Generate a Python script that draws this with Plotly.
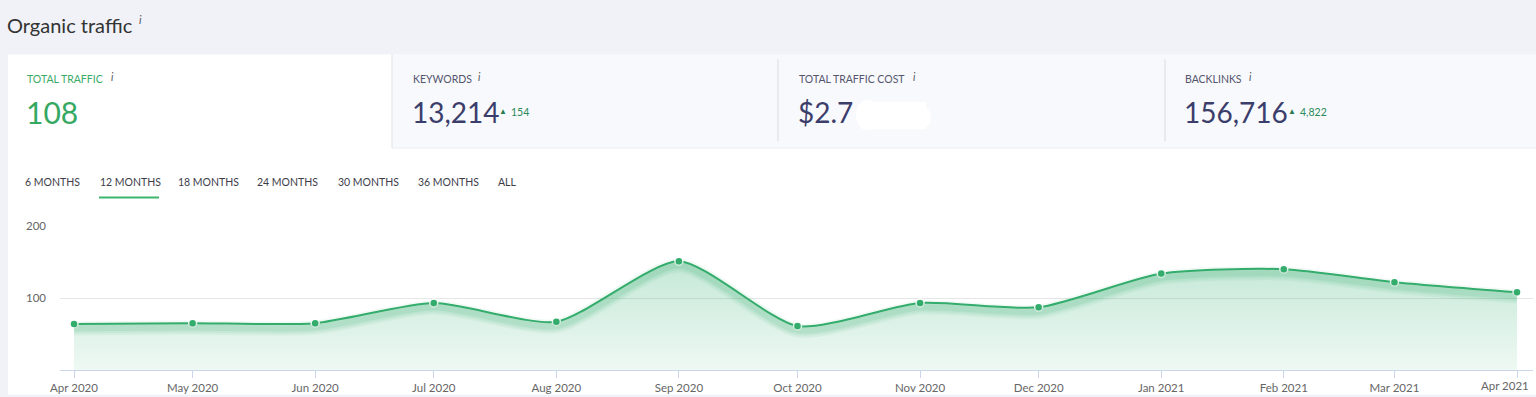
import plotly.graph_objects as go

# ---------------- data ----------------
months = ["2020-04-01", "2020-05-01", "2020-06-01", "2020-07-01", "2020-08-01", "2020-09-01",
          "2020-10-01", "2020-11-01", "2020-12-01", "2021-01-01", "2021-02-01", "2021-03-01",
          "2021-04-01"]
month_labels = ["Apr 2020", "May 2020", "Jun 2020", "Jul 2020", "Aug 2020", "Sep 2020", "Oct 2020",
                "Nov 2020", "Dec 2020", "Jan 2021", "Feb 2021", "Mar 2021", "Apr 2021"]
traffic = [64, 65, 65, 93, 67, 151, 61, 93, 87, 134, 140, 122, 108]

y_ticks = [100, 200]
tab_labels = ["6 MONTHS", "12 MONTHS", "18 MONTHS", "24 MONTHS", "30 MONTHS", "36 MONTHS", "ALL"]
card_labels = ["TOTAL TRAFFIC", "KEYWORDS", "TOTAL TRAFFIC COST", "BACKLINKS"]
card_values = ["108", "13,214", "$2.7", "156,716"]
card_deltas = ["", "154", "", "4,822"]

# ---------------- geometry helpers ----------------
W, H = 1536, 397
L, R, T, B = 60, 3, 226, 25
PW, PH = W - L - R, H - T - B


def px(x):
    return (x - L) / PW


def py(y):
    return (H - B - y) / PH


FONT = "Lato"
GREEN = "#33ad6c"
SMOOTH = 0.65

fig = go.Figure()

# gradient fill area
fig.add_trace(go.Scatter(
    x=months, y=traffic, mode="lines", line=dict(width=0, shape="spline", smoothing=SMOOTH),
    fill="tozeroy",
    fillgradient=dict(type="vertical", start=0, stop=150,
                      colorscale=[[0, "rgba(60,180,120,0.08)"], [1, "rgba(60,180,120,0.30)"]]),
    hoverinfo="skip", showlegend=False))

# soft shadow under line (drawn on slightly shifted overlay axis)
for w, a in [(14, 0.07), (10, 0.09), (6, 0.12)]:
    fig.add_trace(go.Scatter(
        x=months, y=traffic, mode="lines", yaxis="y2",
        line=dict(width=w, color=f"rgba(60,175,115,{a})", shape="spline", smoothing=SMOOTH),
        hoverinfo="skip", showlegend=False))

# main line
fig.add_trace(go.Scatter(
    x=months, y=traffic, mode="lines+markers",
    line=dict(width=2, color=GREEN, shape="spline", smoothing=SMOOTH),
    marker=dict(size=8, color=GREEN, line=dict(width=1.5, color="white")),
    showlegend=False))

shapes = []
# white card + panel
shapes.append(dict(type="rect", xref="paper", yref="paper", x0=px(8), x1=px(392), y0=py(147), y1=py(52),
                   fillcolor="white", line=dict(width=0), layer="below"))
shapes.append(dict(type="rect", xref="paper", yref="paper", x0=px(392), x1=px(1536), y0=py(147), y1=py(52),
                   fillcolor="#f8f9fc", line=dict(width=0), layer="below"))
shapes.append(dict(type="rect", xref="paper", yref="paper", x0=px(8), x1=px(1536), y0=py(397), y1=py(147),
                   fillcolor="white", line=dict(width=0), layer="below"))
# separators
shapes.append(dict(type="line", xref="paper", yref="paper", x0=px(392), x1=px(392), y0=py(147), y1=py(52),
                   line=dict(width=1, color="#dfe2ea")))
for sx in [778, 1165]:
    shapes.append(dict(type="line", xref="paper", yref="paper", x0=px(sx), x1=px(sx), y0=py(140), y1=py(57),
                       line=dict(width=1, color="#d9dbe5")))
shapes.append(dict(type="line", xref="paper", yref="paper", x0=px(392), x1=px(1536), y0=py(147), y1=py(147),
                   line=dict(width=1, color="#eceef4")))
# redaction blob
shapes.append(dict(type="rect", xref="paper", yref="paper", x0=px(862), x1=px(926), y0=py(128), y1=py(100),
                   fillcolor="white", line=dict(width=0)))
shapes.append(dict(type="circle", xref="paper", yref="paper", x0=px(856), x1=px(880), y0=py(129), y1=py(98),
                   fillcolor="white", line=dict(width=0)))
shapes.append(dict(type="circle", xref="paper", yref="paper", x0=px(910), x1=px(931), y0=py(128), y1=py(104),
                   fillcolor="white", line=dict(width=0)))
# active tab underline
shapes.append(dict(type="line", xref="paper", yref="paper", x0=px(99), x1=px(159), y0=py(197), y1=py(197),
                   line=dict(width=2, color="#3cb56c")))

ann = []


def text(x, y, s, size, color, anchor="left", italic=False):
    ann.append(dict(xref="paper", yref="paper", x=px(x), y=py(y), text=(f"<i>{s}</i>" if italic else s),
                    showarrow=False, xanchor=anchor, yanchor="middle",
                    font=dict(family=FONT, size=size, color=color)))


text(5, 22, "Organic traffic", 20, "#333333")
text(137, 17, "i", 11, "#555555", italic=True)

card_x = [26, 412, 798, 1184]
label_colors = ["#3aaa66", "#55556e", "#55556e", "#55556e"]
value_colors = ["#35a862", "#3b3d6b", "#3b3d6b", "#3b3d6b"]
value_sizes = [30, 28, 28, 28]
label_i_x = [109, 476, 911, 1247]
tri_x = [None, 503, None, 1292]
for i in range(4):
    text(card_x[i] - 1, 77, card_labels[i], 10.5, label_colors[i])
    text(label_i_x[i], 75, "i", 10.5, "#555555", italic=True)
    text(card_x[i] - 2, 110, card_values[i], value_sizes[i], value_colors[i])
    if card_deltas[i]:
        text(tri_x[i], 109, "▲", 8, "#2a7d52", anchor="center")
        text(tri_x[i] + 6, 110, card_deltas[i], 10.5, "#2a8a5a")

tab_x = [23, 98, 176, 255, 336, 416, 496]
for tx, lab in zip(tab_x, tab_labels):
    text(tx, 181, lab, 10.5, "#3d3d4a")

# last x tick label, nudged inside the figure like the original
ann.append(dict(xref="x", yref="paper", x=months[-1], y=py(387.5), text=month_labels[-1], showarrow=False,
                xanchor="right", yanchor="middle", xshift=14,
                font=dict(family=FONT, size=11.5, color="#666666")))

tick_text = month_labels[:-1] + [""]

fig.update_layout(
    width=W, height=H,
    margin=dict(l=L, r=R, t=T, b=B, pad=0),
    paper_bgcolor="#f0f2f7", plot_bgcolor="white",
    shapes=shapes, annotations=ann,
    font=dict(family=FONT),
    xaxis=dict(type="date", range=["2020-03-28 11:00", "2021-04-05 01:00"],
               tickvals=months, ticktext=tick_text, ticks="outside", ticklen=7, tickcolor="#ccd6eb",
               showline=True, linecolor="#ccd6eb", linewidth=1, showgrid=False, zeroline=False,
               tickfont=dict(family=FONT, size=11.5, color="#666666")),
    yaxis=dict(range=[0, 200], tickvals=y_ticks, showgrid=True, gridcolor="#e6e6e6", zeroline=False,
               showline=False, ticks="", ticklabelstandoff=13,
               tickfont=dict(family=FONT, size=11.5, color="#666666")),
    yaxis2=dict(range=[6, 206], overlaying="y", visible=False, showgrid=False, zeroline=False),
)

fig.write_html("out.html", config={"displayModeBar": False},
               post_script="document.body.style.margin='0';document.body.style.overflow='hidden';")
